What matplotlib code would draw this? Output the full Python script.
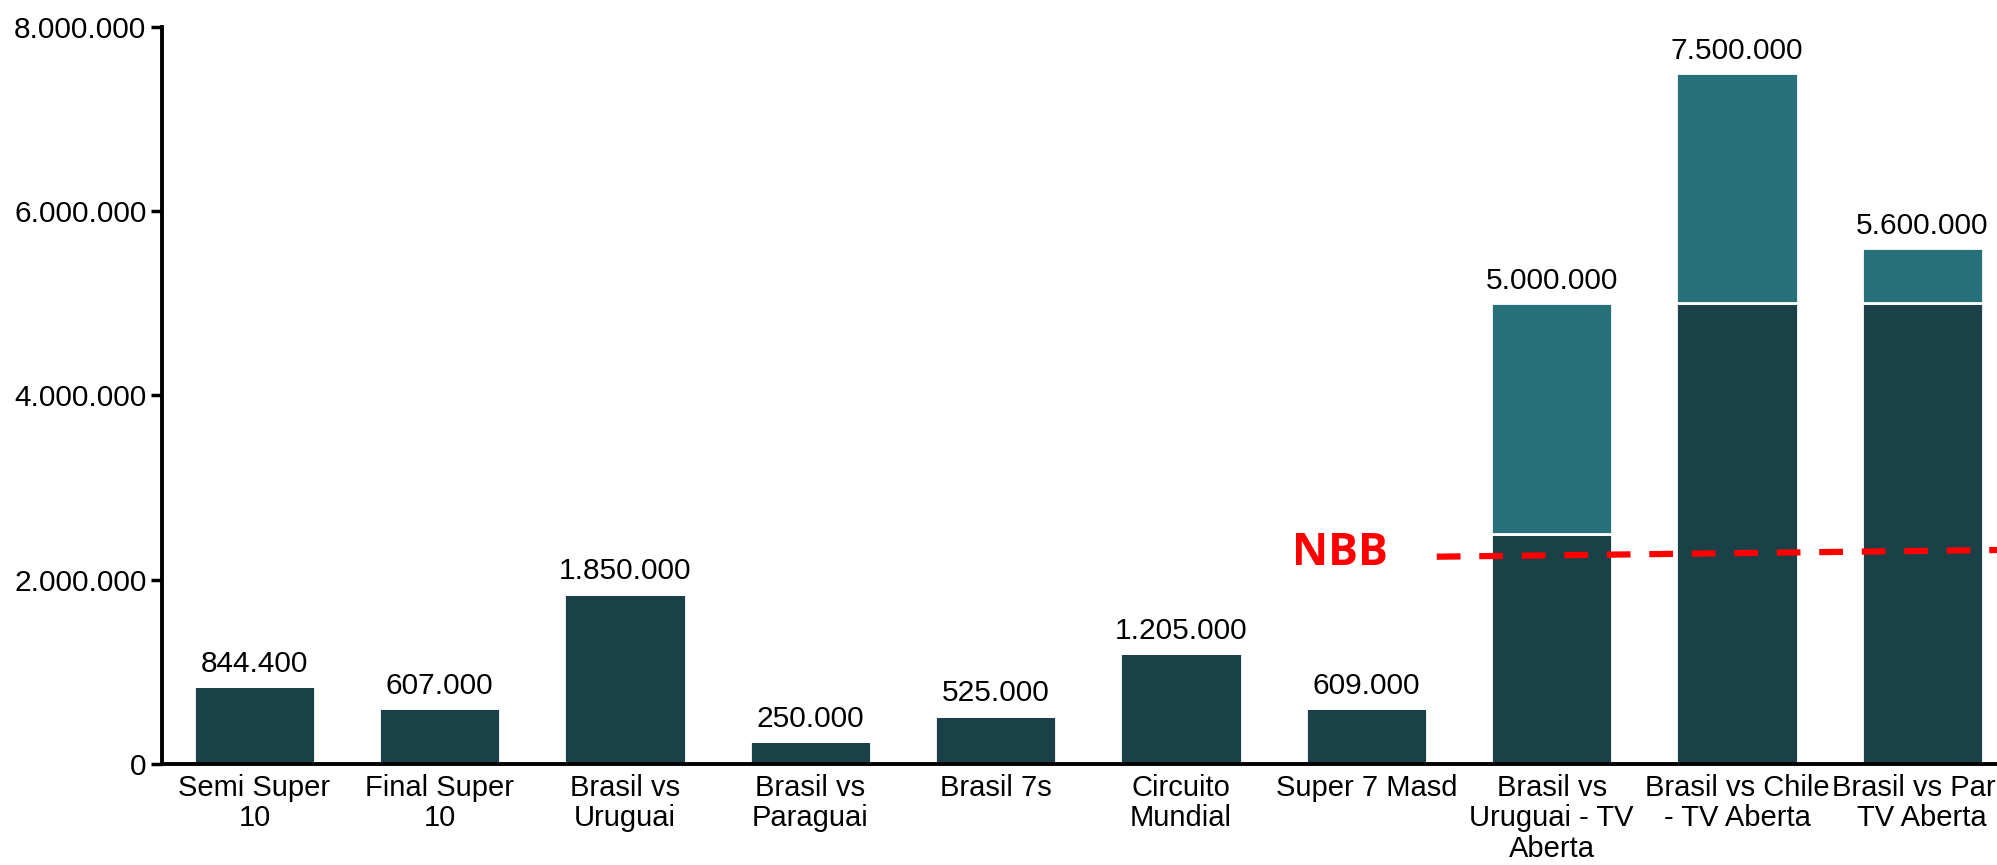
import numpy as np
import matplotlib
matplotlib.use('Agg')
import matplotlib.pyplot as plt
import matplotlib.ticker as ticker

categories = ['Semi Super\n10', 'Final Super\n10', 'Brasil vs\nUruguai', 'Brasil vs\nParaguai',
              'Brasil 7s', 'Circuito\nMundial', 'Super 7 Masd', 'Brasil vs\nUruguai - TV\nAberta',
              'Brasil vs Chile\n- TV Aberta', 'Brasil vs Par -\nTV Aberta']
base = [844400, 607000, 1850000, 250000, 525000, 1205000, 609000, 2500000, 5000000, 5000000]
extra = [0, 0, 0, 0, 0, 0, 0, 2500000, 2500000, 600000]
nbb_line_x = [6.38, 9.5]
nbb_line_y = [2250000, 2325000]

dark = '#1a4148'
teal = '#28717a'

plt.rcParams['font.family'] = ['Liberation Sans', 'DejaVu Sans']

fig = plt.figure(figsize=(19.97, 8.65), dpi=100)
ax = fig.add_axes([0.081, 0.1168, 0.928, 0.852])

x = np.arange(len(categories))
totals = np.array(base) + np.array(extra)
ax.bar(x, base, width=0.655, color=dark, edgecolor='white', linewidth=2)
ax.bar(x, extra, width=0.655, bottom=base, color=teal, edgecolor='white', linewidth=2)

for xi, t in zip(x, totals):
    ax.annotate(f'{t:,}'.replace(',', '.'), (xi, t), xytext=(0, 6), textcoords='offset points',
                ha='center', va='bottom', fontsize=21.5)

ax.plot(nbb_line_x, nbb_line_y, color='#ff0000', linewidth=4.5, linestyle=(0, (3.8, 3.0)))
ax.text(5.86, 2290000, 'NBB', color='#ff0000', fontsize=32, fontweight='bold',
        family=['Open Sans', 'DejaVu Sans'], ha='center', va='center')

ax.set_xlim(-0.5, 9.5)
ax.set_ylim(0, 8000000)
ax.yaxis.set_major_locator(ticker.MultipleLocator(2000000))
ax.yaxis.set_major_formatter(ticker.FuncFormatter(lambda v, p: f'{int(v):,}'.replace(',', '.')))
ax.set_xticks(x)
ax.set_xticklabels(categories, fontsize=21, linespacing=1.12)
ax.tick_params(axis='x', length=0, pad=7)
ax.tick_params(axis='y', labelsize=21.5, length=8, width=2.5, pad=3)

for s in ['top', 'right']:
    ax.spines[s].set_visible(False)
for s in ['left', 'bottom']:
    ax.spines[s].set_linewidth(2.8)

fig.savefig('out.png', dpi=100)
